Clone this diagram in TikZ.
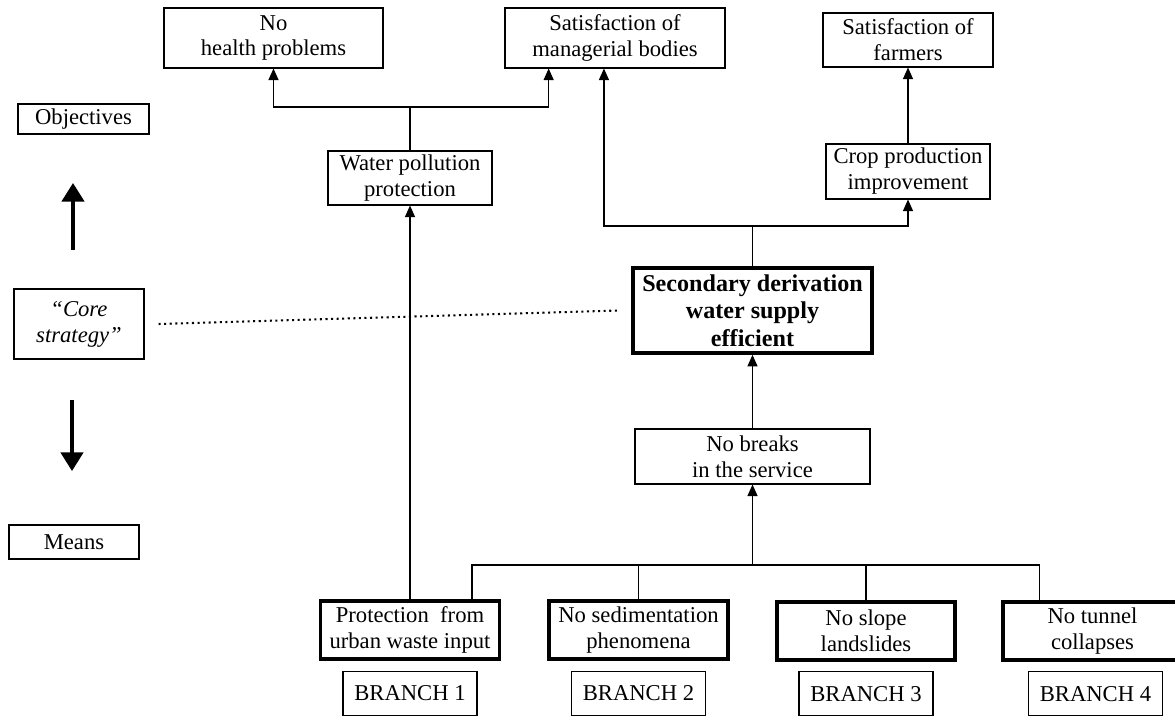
\documentclass[tikz,border=0pt]{standalone}
\usepackage{fontspec}
\setmainfont{Liberation Serif}
\usetikzlibrary{arrows.meta,positioning,calc}
\tikzset{
  box/.style={draw, line width=0.6pt, align=center, inner sep=1pt, font=\fontsize{12.2}{14}\selectfont},
  meansbox/.style={box, line width=1.8pt},
  corebox/.style={box, line width=2pt, font=\fontsize{13}{14.8}\selectfont\bfseries},
  branchbox/.style={box, minimum width=72.2pt, minimum height=23.7pt},
  link/.style={line width=0.6pt},
  arrow/.style={link, -{Triangle[length=6.2pt,width=5.4pt]}},
  bigarrow/.style={line width=1.8pt, -{Triangle[length=10pt,width=12pt]}},
  dotline/.style={line width=1.1pt, dash pattern=on 1.1pt off 1.9pt}
}
\begin{document}
\begin{tikzpicture}[x=0.539pt, y=-0.539pt]
\useasboundingbox (0,0) rectangle (1175,715);
\node[box, minimum width=118pt, minimum height=32.3pt] (health) at (273.5,38) {No\\health problems};
\node[box, minimum width=118.6pt, minimum height=32.3pt] (mgr) at (615,38) {Satisfaction of\\managerial bodies};
\node[box, minimum width=91.6pt, minimum height=29.1pt] (farmers) at (908,40) {Satisfaction of\\farmers};
\node[box, minimum width=88.4pt, minimum height=29.1pt] (water) at (410,178) {Water pollution\\protection};
\node[box, minimum width=88.4pt, minimum height=29.6pt] (crop) at (908,171.5) {Crop production\\improvement};
\node[corebox, minimum width=128.8pt, minimum height=45.8pt] (sds) at (752.5,310.5) {Secondary derivation\\water supply\\efficient};
\node[box, minimum width=126.7pt, minimum height=29.6pt] (breaks) at (752.5,456.5) {No breaks\\in the service};
\node[meansbox, minimum width=96.5pt, minimum height=31.3pt] (prot) at (410,630) {Protection\ \ from\\urban waste input};
\node[meansbox, minimum width=96.5pt, minimum height=31.3pt] (sedim) at (638.5,630) {No sedimentation\\phenomena};
\node[meansbox, minimum width=96pt, minimum height=31.3pt] (slope) at (866,631) {No slope\\landslides};
\node[meansbox, minimum width=96.5pt, minimum height=31.3pt] (tunnel) at (1092.5,631) {No tunnel\\collapses};
\node[branchbox, below=5.4pt of prot] (br1) {BRANCH 1};
\node[branchbox, below=5.4pt of sedim] (br2) {BRANCH 2};
\node[branchbox, below=5.1pt of slope] (br3) {BRANCH 3};
\node[branchbox, below=5.1pt of tunnel, xshift=1.6pt] (br4) {BRANCH 4};
\node[box, minimum width=70.6pt, minimum height=16.2pt] (obj) at (83.5,119) {Objectives};
\node[box, font=\fontsize{12.2}{14}\selectfont\itshape, minimum width=70.1pt, minimum height=37.7pt] (strat) at (79,324) {“Core\\strategy”};
\node[box, minimum width=70.1pt, minimum height=18.3pt] (means) at (74,542) {Means};
\coordinate (jwater) at (410,107);
\coordinate (jsds) at (752.5,226);
\coordinate (jbase) at (752.5,565);
\coordinate (upfrom) at (73,250);
\coordinate (upto) at (73,183);
\coordinate (downfrom) at (72,400);
\coordinate (downto) at (72,471);
\draw[link] (water) -- (jwater);
\draw[arrow] (jwater) -| (health.south);
\draw[arrow] (jwater) -| ($(mgr.south west)!.2!(mgr.south east)$);
\draw[arrow] (prot) -- (water);
\draw[link] (sds) -- (jsds);
\draw[arrow] (jsds) -| ($(mgr.south west)!.45!(mgr.south east)$);
\draw[arrow] (jsds) -| (crop.south);
\draw[arrow] (crop) -- (farmers);
\draw[arrow] (breaks) -- (sds);
\draw[arrow] (jbase) -- (breaks);
\draw[link] ($(prot.north west)!.84!(prot.north east)$) |- (jbase);
\draw[link] (sedim.north) |- (jbase);
\draw[link] (slope.north) |- (jbase);
\draw[link] ($(tunnel.north west)!.21!(tunnel.north east)$) |- (jbase);
\draw[dotline] ($(strat.east)+(14,0)$) -- ($(sds.west)+(-13,0)$);
\draw[bigarrow] (upfrom) -- (upto);
\draw[bigarrow] (downfrom) -- (downto);
\end{tikzpicture}
\end{document}
